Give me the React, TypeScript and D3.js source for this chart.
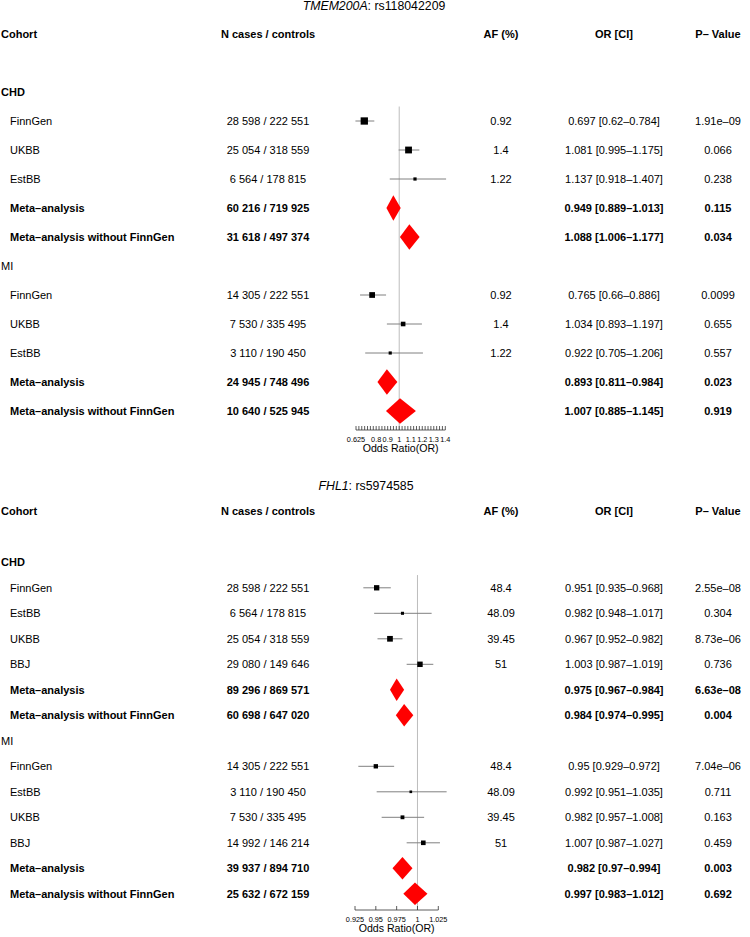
import React from 'react';
import * as d3 from 'd3';

// ---------- shared ----------
const headers = ['Cohort', 'N cases / controls', 'AF (%)', 'OR [CI]', 'P– Value'];

// ---------- panel 1 : TMEM200A ----------
const p1Gene = 'TMEM200A';
const p1Snp = ': rs118042209';
const p1Kind = ['section', 'study', 'study', 'study', 'summary', 'summary', 'subsection', 'study', 'study', 'study', 'summary', 'summary'];
const p1Cohort = ['CHD', 'FinnGen', 'UKBB', 'EstBB', 'Meta–analysis', 'Meta–analysis without FinnGen', 'MI', 'FinnGen', 'UKBB', 'EstBB', 'Meta–analysis', 'Meta–analysis without FinnGen'];
const p1N = ['', '28 598 / 222 551', '25 054 / 318 559', '6 564 / 178 815', '60 216 / 719 925', '31 618 / 497 374', '', '14 305 / 222 551', '7 530 / 335 495', '3 110 / 190 450', '24 945 / 748 496', '10 640 / 525 945'];
const p1AF = ['', '0.92', '1.4', '1.22', '', '', '', '0.92', '1.4', '1.22', '', ''];
const p1OR = [NaN, 0.697, 1.081, 1.137, 0.949, 1.088, NaN, 0.765, 1.034, 0.922, 0.893, 1.007];
const p1Lo = [NaN, 0.62, 0.995, 0.918, 0.889, 1.006, NaN, 0.66, 0.893, 0.705, 0.811, 0.885];
const p1Hi = [NaN, 0.784, 1.175, 1.407, 1.013, 1.177, NaN, 0.886, 1.197, 1.206, 0.984, 1.145];
const p1P = ['', '1.91e–09', '0.066', '0.238', '0.115', '0.034', '', '0.0099', '0.655', '0.557', '0.023', '0.919'];
const p1Domain = [0.625, 1.4];
const p1TickLabels = [0.625, 0.8, 0.9, 1, 1.1, 1.2, 1.3, 1.4];
const p1MinorStep = 0.025;

// ---------- panel 2 : FHL1 ----------
const p2Gene = 'FHL1';
const p2Snp = ': rs5974585';
const p2Kind = ['section', 'study', 'study', 'study', 'study', 'summary', 'summary', 'subsection', 'study', 'study', 'study', 'study', 'summary', 'summary'];
const p2Cohort = ['CHD', 'FinnGen', 'EstBB', 'UKBB', 'BBJ', 'Meta–analysis', 'Meta–analysis without FinnGen', 'MI', 'FinnGen', 'EstBB', 'UKBB', 'BBJ', 'Meta–analysis', 'Meta–analysis without FinnGen'];
const p2N = ['', '28 598 / 222 551', '6 564 / 178 815', '25 054 / 318 559', '29 080 / 149 646', '89 296 / 869 571', '60 698 / 647 020', '', '14 305 / 222 551', '3 110 / 190 450', '7 530 / 335 495', '14 992 / 146 214', '39 937 / 894 710', '25 632 / 672 159'];
const p2AF = ['', '48.4', '48.09', '39.45', '51', '', '', '', '48.4', '48.09', '39.45', '51', '', ''];
const p2OR = [NaN, 0.951, 0.982, 0.967, 1.003, 0.975, 0.984, NaN, 0.95, 0.992, 0.982, 1.007, 0.982, 0.997];
const p2Lo = [NaN, 0.935, 0.948, 0.952, 0.987, 0.967, 0.974, NaN, 0.929, 0.951, 0.957, 0.987, 0.97, 0.983];
const p2Hi = [NaN, 0.968, 1.017, 0.982, 1.019, 0.984, 0.995, NaN, 0.972, 1.035, 1.008, 1.027, 0.994, 1.012];
const p2P = ['', '2.55e–08', '0.304', '8.73e–06', '0.736', '6.63e–08', '0.004', '', '7.04e–06', '0.711', '0.163', '0.459', '0.003', '0.692'];
const p2Domain = [0.925, 1.025];
const p2TickLabels = [0.925, 0.95, 0.975, 1, 1.025];
const p2MinorStep = 0.025;

const FONT = '"Liberation Sans", Arial, Helvetica, sans-serif';
const FS = 11;

type PanelProps = {
  gene: string; snp: string;
  kind: string[]; cohort: string[]; n: string[]; af: string[];
  or: number[]; lo: number[]; hi: number[]; p: string[];
  domain: number[]; tickLabels: number[]; minorStep: number;
  headerY: number; rowH: number; titleX: number; titleY: number;
  axisY: number; xRange: number[]; maxBox: number;
};

function Panel(props: PanelProps) {
  const { gene, snp, kind, cohort, n, af, or, lo, hi, p, domain, tickLabels, minorStep,
    headerY, rowH, titleX, titleY, axisY, xRange, maxBox } = props;
  const x = d3.scaleLinear().domain(domain).range(xRange);
  const rowY = (k: number) => headerY + rowH * (k + 2);
  const base = (y: number) => y + 0.36 * FS;

  const nMinor = Math.round((domain[1] - domain[0]) / minorStep);
  const minorTicks = d3.range(nMinor + 1).map(i => domain[0] + i * minorStep);

  const infos = kind.map((k, i) => (k === 'study' ? 1 / (hi[i] - lo[i]) : NaN));
  const maxInfo = d3.max(infos.filter(v => !isNaN(v))) as number;

  const firstStudy = kind.indexOf('study');
  const colN = 268, colAF = 501, colOR = 614, colP = 718;
  const tickLen = 4;
  const lineY = axisY + tickLen;

  return (
    <g fontFamily={FONT} fill="#000">
      <text x={titleX} y={titleY} fontSize={12.3} textAnchor="middle">
        <tspan fontStyle="italic">{gene}</tspan>{snp}
      </text>
      {/* header */}
      <g fontWeight="bold" fontSize={FS}>
        <text x={1} y={base(headerY)}>{headers[0]}</text>
        <text x={colN} y={base(headerY)} textAnchor="middle">{headers[1]}</text>
        <text x={colAF} y={base(headerY)} textAnchor="middle">{headers[2]}</text>
        <text x={colOR} y={base(headerY)} textAnchor="middle">{headers[3]}</text>
        <text x={colP} y={base(headerY)} textAnchor="middle">{headers[4]}</text>
      </g>
      {/* reference line */}
      <line x1={x(1)} x2={x(1)} y1={rowY(firstStudy) - rowH / 2} y2={lineY} stroke="#bdbdbd" strokeWidth={1} />
      {kind.map((k, i) => {
        const y = rowY(i);
        if (k === 'section' || k === 'subsection') {
          return (
            <text key={i} x={1} y={base(y)} fontSize={FS} fontWeight={k === 'section' ? 'bold' : 'normal'}>{cohort[i]}</text>
          );
        }
        const bold = k === 'summary' ? 'bold' : 'normal';
        const orText = `${or[i]} [${lo[i]}–${hi[i]}]`;
        let mark;
        if (k === 'study') {
          const s = maxBox * Math.pow(infos[i] / maxInfo, 0.75);
          mark = (
            <g>
              <line x1={x(lo[i])} x2={x(hi[i])} y1={y} y2={y} stroke="#808080" strokeWidth={1} />
              <rect x={x(or[i]) - s / 2} y={y - s / 2} width={s} height={s} fill="#000" />
            </g>
          );
        } else {
          const h = rowH * 0.88;
          const pts = [[x(lo[i]), y], [x(or[i]), y - h / 2], [x(hi[i]), y], [x(or[i]), y + h / 2]];
          mark = <polygon points={pts.map(q => q.join(',')).join(' ')} fill="#ff0000" />;
        }
        return (
          <g key={i} fontSize={FS} fontWeight={bold}>
            <text x={10} y={base(y)}>{cohort[i]}</text>
            <text x={colN} y={base(y)} textAnchor="middle">{n[i]}</text>
            <text x={colAF} y={base(y)} textAnchor="middle">{af[i]}</text>
            <text x={colOR} y={base(y)} textAnchor="middle">{orText}</text>
            <text x={colP} y={base(y)} textAnchor="middle">{p[i]}</text>
            {mark}
          </g>
        );
      })}
      {/* axis */}
      <g stroke="#333" strokeWidth={0.8}>
        <line x1={x(domain[0])} x2={x(domain[1])} y1={lineY} y2={lineY} />
        {minorTicks.map((t, i) => (
          <line key={i} x1={x(t)} x2={x(t)} y1={axisY} y2={lineY} />
        ))}
      </g>
      {tickLabels.map((t, i) => (
        <text key={i} x={x(t)} y={axisY + 13 + 2.6} fontSize={7.3} textAnchor="middle">{String(t)}</text>
      ))}
      <text x={(xRange[0] + xRange[1]) / 2} y={axisY + 22 + 3.8} fontSize={10.6} textAnchor="middle">Odds Ratio(OR)</text>
    </g>
  );
}

export default function App() {
  return (
    <svg width={750} height={937} style={{ position: 'absolute', left: 0, top: 0, background: '#fff' }}>
      <rect width={750} height={937} fill="#fff" />
      <Panel gene={p1Gene} snp={p1Snp} kind={p1Kind} cohort={p1Cohort} n={p1N} af={p1AF}
        or={p1OR} lo={p1Lo} hi={p1Hi} p={p1P} domain={p1Domain} tickLabels={p1TickLabels}
        minorStep={p1MinorStep} headerY={34} rowH={29} titleX={374} titleY={9.8}
        axisY={426} xRange={[356, 445.3]} maxBox={7.3} />
      <Panel gene={p2Gene} snp={p2Snp} kind={p2Kind} cohort={p2Cohort} n={p2N} af={p2AF}
        or={p2OR} lo={p2Lo} hi={p2Hi} p={p2P} domain={p2Domain} tickLabels={p2TickLabels}
        minorStep={p2MinorStep} headerY={511.3} rowH={25.5} titleX={366} titleY={490}
        axisY={906} xRange={[355, 438.3]} maxBox={5.7} />
    </svg>
  );
}
